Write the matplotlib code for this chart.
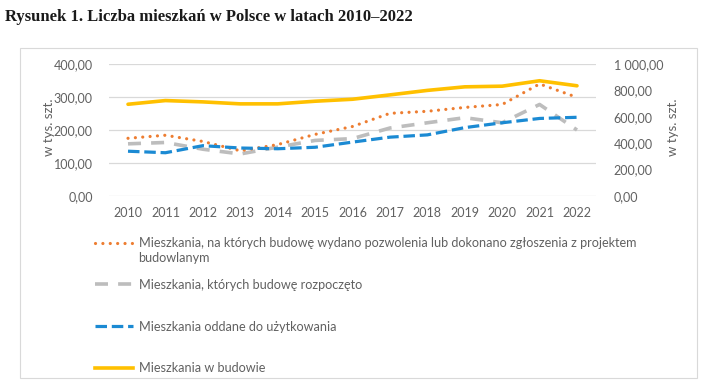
import matplotlib
matplotlib.use("Agg")
import matplotlib.pyplot as plt
from matplotlib.ticker import FuncFormatter, MultipleLocator
from matplotlib.lines import Line2D
from matplotlib.patches import Rectangle

years = ["2010", "2011", "2012", "2013", "2014", "2015", "2016",
         "2017", "2018", "2019", "2020", "2021", "2022"]
permits = [174.9, 184.1, 165.3, 137.0, 155.8, 186.7, 210.6,
           250.5, 256.7, 268.4, 277.3, 339.6, 299.0]
starts = [158.1, 162.2, 141.8, 127.4, 148.1, 168.4, 173.9,
          206.0, 221.9, 237.3, 222.0, 277.4, 200.0]
completed = [135.7, 131.1, 152.5, 145.4, 143.2, 147.7, 163.3,
             178.3, 185.2, 207.2, 221.9, 235.0, 238.5]
under_construction = [695, 723, 713, 698, 698, 718, 733,
                      766, 800, 827, 832, 873, 835]

labels = [
    "Mieszkania, na których budowę wydano pozwolenia lub dokonano zgłoszenia z projektem",
    "Mieszkania, których budowę rozpoczęto",
    "Mieszkania oddane do użytkowania",
    "Mieszkania w budowie",
]
label_cont = "budowlanym"
title = "Rysunek 1. Liczba mieszkań w Polsce w latach 2010–2022"
ylabel = "w tys. szt."

C_OR = "#ED7D31"
C_GR = "#BDBDBD"
C_BL = "#1B8AD3"
C_YE = "#FFC000"
TXT = "#616161"
FONT = "Lato"

W, H = 712, 388
fig = plt.figure(figsize=(W / 100, H / 100), dpi=100)
fig.patch.set_facecolor("white")

# chart frame
fig.patches.append(Rectangle((19.5 / W, 1 - 378 / H), (697 - 19.5) / W, (378 - 48) / H,
                             transform=fig.transFigure, fill=False,
                             edgecolor="#D9D9D9", linewidth=0.8))

fig.text(5 / W, 1 - 17 / H, title, fontsize=12, fontweight="bold",
         family="Liberation Serif", color="#1a1a1a", va="center", ha="left")

left, right = 109.3 / W, 595.7 / W
bottom, top = 1 - 196 / H, 1 - 64 / H
ax = fig.add_axes([left, bottom, right - left, top - bottom])
ax2 = ax.twinx()

x = list(range(len(years)))
ax.plot(x, permits, color=C_OR, lw=2.3, linestyle=(0, (0.01, 2.3)),
        dash_capstyle="round", zorder=3)
ax.plot(x, starts, color=C_GR, lw=2.6, linestyle=(0, (3.6, 2.8)),
        dash_capstyle="butt", zorder=2)
ax.plot(x, completed, color=C_BL, lw=2.3, linestyle=(0, (3.6, 1.5)),
        dash_capstyle="butt", zorder=4)
ax2.plot(x, under_construction, color=C_YE, lw=2.6, solid_capstyle="round")

ax.set_xlim(-0.5, len(years) - 0.5)
ax.set_ylim(0, 400)
ax2.set_ylim(0, 1000)
ax.yaxis.set_major_locator(MultipleLocator(100))
ax2.yaxis.set_major_locator(MultipleLocator(200))


def fmt(v, pos):
    s = f"{v:,.2f}".replace(",", " ").replace(".", ",")
    return s


ax.yaxis.set_major_formatter(FuncFormatter(fmt))
ax2.yaxis.set_major_formatter(FuncFormatter(fmt))
ax.set_xticks(x)
ax.set_xticklabels(years)

ax.grid(axis="y", color="#D9D9D9", lw=0.9)
ax.set_axisbelow(True)
for a in (ax, ax2):
    for s in a.spines.values():
        s.set_visible(False)
    a.tick_params(length=0, labelsize=9, labelcolor=TXT)
    for t in a.get_xticklabels() + a.get_yticklabels():
        t.set_family(FONT)
ax.tick_params(axis="y", pad=12)
ax2.tick_params(axis="y", pad=13)
ax.tick_params(axis="x", pad=8)

fig.text(49 / W, 1 - 127 / H, ylabel, rotation=90, fontsize=9.5, family=FONT,
         color=TXT, ha="center", va="center")
fig.text(673 / W, 1 - 127 / H, ylabel, rotation=90, fontsize=9.5, family=FONT,
         color=TXT, ha="center", va="center")

handles = [
    Line2D([], [], color=C_OR, lw=2.3, linestyle=(0, (0.01, 2.3)), dash_capstyle="round"),
    Line2D([], [], color=C_GR, lw=2.6, linestyle=(0, (3.6, 2.8)), dash_capstyle="butt"),
    Line2D([], [], color=C_BL, lw=2.3, linestyle=(0, (3.6, 1.5)), dash_capstyle="butt"),
    Line2D([], [], color=C_YE, lw=2.6),
]
leg = fig.legend(handles, labels, loc="upper left",
                 bbox_to_anchor=(95 / W, 1 - 237 / H), frameon=False,
                 borderpad=0, borderaxespad=0, handlelength=3.0,
                 handletextpad=0.45, labelspacing=2.36,
                 prop={"family": FONT, "size": 9.1})
for t in leg.get_texts():
    t.set_color(TXT)

fig.canvas.draw()
r = fig.canvas.get_renderer()
bb = leg.get_texts()[0].get_window_extent(r)
fig.text(bb.x0 / W, (bb.y0 - 15) / H, label_cont, fontsize=9.1, family=FONT,
         color=TXT, ha="left", va="bottom", transform=fig.transFigure)

fig.savefig("out.png", dpi=100, facecolor="white")
